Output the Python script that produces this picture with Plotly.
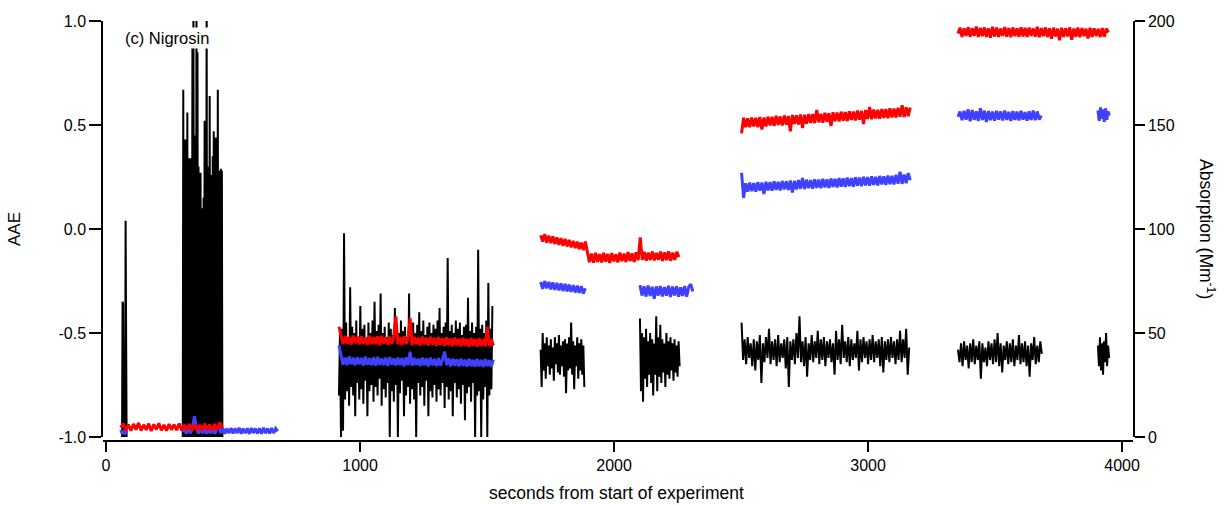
import plotly.graph_objects as go

# ---- AAE (left axis), one list per measurement block ----
aae_t0 = [63, 302, 917, 1711, 2102, 2502, 3354, 3905]
aae_dt = [2, 2, 4, 4, 4, 6, 6, 4]

aae_b1 = [-1.0, -0.35, -0.36, -1.0, -0.98, -1.0, -0.9, 0.04, -1.0, -1.0]
aae_b2 = [-1.0, 0.67, -1.0, 0.1, -1.0, 0.43, -1.0, 0.3, -1.0, 0.56,
          -1.0, 0.34, -1.0, 0.2, -1.0, 0.34, -1.0, 0.3, -1.0, 0.9,
          -1.0, 1.2, -1.0, 0.45, -1.0, 0.3, -1.0, 1.2, -1.0, 0.85,
          -1.0, 0.3, -1.0, 0.27, -1.0, 0.27, -0.55, 0.1, -1.0, -0.06,
          -1.0, 0.15, -1.0, 0.52, -1.0, 0.3, -1.0, 1.2, -1.0, 0.25,
          -1.0, 0.3, -1.0, 0.64, -1.0, 0.2, -1.0, 0.26, -1.0, 0.35,
          -1.0, 0.47, -1.0, 0.2, -1.0, 0.44, -1.0, 0.3, -1.0, 0.67,
          -1.0, 0.2, -1.0, 0.28, -1.0, 0.29, -1.0, 0.28, -1.0]
aae_b3 = [-0.8, -0.5, -1.0, -0.48, -0.97, -0.02, -0.82, -0.45, -0.78, -0.52,
          -0.85, -0.28, -0.76, -0.47, -0.8, -0.5, -0.9, -0.44, -0.74, -0.52,
          -0.82, -0.37, -0.77, -0.48, -0.84, -0.46, -0.73, -0.53, -0.9, -0.45,
          -0.78, -0.5, -0.75, -0.44, -0.83, -0.35, -0.76, -0.49, -0.8, -0.46,
          -0.72, -0.31, -0.85, -0.5, -0.77, -0.47, -0.81, -0.52, -0.74, -0.45,
          -1.0, -0.48, -0.78, -0.51, -0.83, -0.38, -0.75, -0.46, -1.0, -0.5,
          -0.79, -0.44, -0.73, -0.49, -0.9, -0.47, -0.8, -0.52, -0.76, -0.31,
          -0.84, -0.48, -0.77, -0.45, -0.82, -0.5, -1.0, -0.46, -0.74, -0.4,
          -0.8, -0.49, -0.76, -0.44, -0.85, -0.51, -0.73, -0.47, -0.9, -0.45,
          -0.78, -0.5, -0.81, -0.46, -0.75, -0.48, -0.83, -0.44, -0.77, -0.38,
          -0.8, -0.5, -0.74, -0.47, -0.86, -0.45, -0.76, -0.14, -0.82, -0.49,
          -0.78, -0.46, -0.9, -0.5, -0.74, -0.44, -0.81, -0.48, -0.77, -0.45,
          -0.84, -0.51, -0.75, -0.47, -0.92, -0.46, -0.79, -0.33, -0.76, -0.49,
          -0.83, -0.45, -0.74, -0.5, -1.0, -0.47, -0.8, -0.1, -0.78, -0.48,
          -1.0, -0.46, -0.82, -0.5, -0.76, -0.44, -1.0, -0.26, -0.8, -0.48,
          -0.77, -0.37]
aae_b4 = [-0.58, -0.76, -0.5, -0.68, -0.55, -0.72, -0.52, -0.66, -0.56, -0.7,
          -0.53, -0.67, -0.57, -0.73, -0.52, -0.65, -0.55, -0.69, -0.51, -0.7,
          -0.56, -0.66, -0.54, -0.71, -0.53, -0.79, -0.55, -0.68, -0.52, -0.67,
          -0.45, -0.7, -0.54, -0.77, -0.56, -0.66, -0.52, -0.72, -0.55, -0.68,
          -0.53, -0.7, -0.56, -0.76]
aae_b5 = [-0.43, -0.78, -0.5, -0.83, -0.52, -0.72, -0.48, -0.76, -0.54, -0.7,
          -0.5, -0.74, -0.53, -0.8, -0.55, -0.7, -0.42, -0.78, -0.52, -0.71,
          -0.46, -0.74, -0.53, -0.69, -0.55, -0.76, -0.5, -0.7, -0.54, -0.72,
          -0.52, -0.68, -0.55, -0.73, -0.53, -0.69, -0.56, -0.71, -0.54, -0.66]
aae_b6 = [-0.45, -0.63, -0.53, -0.65, -0.52, -0.62, -0.55, -0.66, -0.53, -0.68,
          -0.54, -0.63, -0.51, -0.74, -0.55, -0.64, -0.52, -0.62, -0.48, -0.65,
          -0.54, -0.63, -0.53, -0.66, -0.51, -0.64, -0.55, -0.62, -0.53, -0.67,
          -0.52, -0.76, -0.54, -0.63, -0.53, -0.65, -0.5, -0.62, -0.42, -0.64,
          -0.54, -0.66, -0.52, -0.71, -0.55, -0.63, -0.51, -0.64, -0.54, -0.62,
          -0.49, -0.65, -0.53, -0.63, -0.52, -0.66, -0.54, -0.62, -0.53, -0.64,
          -0.55, -0.7, -0.49, -0.63, -0.53, -0.65, -0.46, -0.62, -0.54, -0.64,
          -0.52, -0.66, -0.53, -0.63, -0.55, -0.62, -0.49, -0.68, -0.53, -0.64,
          -0.52, -0.62, -0.54, -0.65, -0.53, -0.63, -0.51, -0.64, -0.54, -0.62,
          -0.53, -0.66, -0.52, -0.69, -0.54, -0.63, -0.53, -0.64, -0.52, -0.62,
          -0.54, -0.65, -0.53, -0.63, -0.49, -0.64, -0.53, -0.62, -0.48, -0.7,
          -0.57]
aae_b7 = [-0.58, -0.64, -0.55, -0.66, -0.54, -0.63, -0.56, -0.67, -0.55, -0.64,
          -0.53, -0.65, -0.56, -0.63, -0.54, -0.72, -0.55, -0.64, -0.57, -0.66,
          -0.54, -0.63, -0.55, -0.65, -0.53, -0.64, -0.5, -0.66, -0.55, -0.69,
          -0.56, -0.63, -0.54, -0.65, -0.55, -0.64, -0.53, -0.66, -0.56, -0.63,
          -0.51, -0.65, -0.55, -0.64, -0.54, -0.66, -0.56, -0.71, -0.55, -0.63,
          -0.52, -0.65, -0.56, -0.64, -0.54, -0.6]
aae_b8 = [-0.56, -0.66, -0.52, -0.68, -0.55, -0.7, -0.54, -0.64, -0.5, -0.66,
          -0.56, -0.62]

# ---- absorption at the longer wavelength (red, right axis, Mm^-1) ----
red_t0 = [58, 917, 1711, 2502, 3354]
red_dt = [10, 8, 8, 8, 8]

red_b1 = [4.5, 6.5, 3.2, 6.0, 3.0, 6.3, 3.5, 6.8, 3.1, 5.9, 3.4, 6.4, 2.9, 6.1,
          3.6, 6.6, 3.2, 5.8, 3.0, 6.2, 3.5, 6.0, 3.3, 6.5, 3.1, 5.9, 3.6, 6.3,
          3.0, 6.1, 3.4, 5.8, 3.2, 6.4, 3.5, 6.0, 3.1, 6.2, 3.4, 7.0, 4.5]
red_b2 = [53, 48.3, 44.6, 48.6, 44.9, 48.1, 44.4, 48.8, 45.0, 48.2, 44.5, 48.5,
          44.8, 47.9, 44.3, 48.6, 44.7, 48.0, 44.6, 48.4, 44.2, 48.7, 44.9, 47.8,
          44.4, 48.3, 44.8, 48.9, 58, 44.5, 48.0, 44.3, 48.4, 44.7, 47.9, 57,
          44.2, 48.1, 44.6, 47.8, 44.1, 48.3, 44.5, 47.7, 44.0, 48.2, 44.4, 47.6,
          43.9, 48.0, 44.3, 47.5, 43.8, 47.9, 44.2, 47.4, 43.7, 47.8, 44.1, 47.3,
          43.6, 47.7, 44.0, 47.2, 43.5, 47.6, 43.9, 47.1, 43.4, 47.5, 43.8, 47.0,
          43.6, 53, 43.7, 47.2, 43.9]
red_b3 = [97, 94, 97.5, 93.5, 96.8, 93.2, 96.5, 92.8, 96, 92.4, 95.6, 91.9, 95.2,
          91.6, 94.8, 91.2, 94.3, 90.8, 93.9, 90.3, 93.5, 89.8, 94, 88.8, 84, 88.2,
          83.8, 88.5, 84.2, 87.9, 83.9, 88.6, 84.3, 88.1, 83.7, 88.4, 84.4, 87.8,
          84.0, 88.7, 84.5, 88.2, 84.1, 88.9, 84.6, 88.3, 84.2, 88.8, 85.0, 96,
          85.2, 89.0, 84.8, 88.6, 85.1, 89.2, 84.9, 88.5, 85.3, 89.1, 84.7, 88.8,
          85.0, 89.3, 84.8, 88.6, 85.2, 89.0, 86.5]
red_b4 = [146, 153.5, 149.0, 153.2, 148.9, 153.6, 149.3, 153.4, 149.0, 153.8, 147.8,
          153.6, 149.3, 154.0, 149.8, 153.9, 149.5, 154.4, 150.0, 154.1, 149.8, 154.6,
          150.2, 154.3, 147.0, 154.8, 150.5, 154.6, 150.3, 155.0, 148.6, 154.9, 150.6,
          155.3, 151.0, 155.2, 150.9, 157.2, 151.3, 155.4, 151.1, 155.9, 151.6, 155.7,
          149.5, 156.1, 151.8, 156.0, 151.7, 156.4, 152.1, 156.2, 151.9, 156.6, 152.4,
          156.5, 152.2, 156.9, 152.6, 156.8, 150.5, 157.2, 152.9, 158.6, 152.8, 157.4,
          153.2, 157.3, 153.0, 157.7, 153.4, 157.6, 153.3, 158.0, 153.7, 157.9, 153.6,
          158.3, 154.0, 159.5, 153.9, 158.5, 154.2, 158.4]
red_b5 = [194, 196.8, 192.4, 196.5, 192.8, 197.0, 192.5, 196.6, 192.9, 197.3, 192.3,
          196.7, 192.7, 196.9, 192.4, 196.5, 192.0, 197.2, 192.6, 196.8, 192.3, 196.4,
          192.8, 197.1, 192.5, 196.6, 192.2, 196.9, 192.7, 196.5, 192.4, 197.0, 192.6,
          196.7, 192.3, 196.8, 192.8, 196.4, 192.5, 197.2, 192.2, 196.6, 192.7, 196.9,
          192.4, 196.5, 191.5, 196.8, 192.6, 196.3, 190.8, 196.7, 192.3, 196.5, 192.6,
          196.9, 191.0, 196.4, 192.5, 196.8, 192.2, 196.6, 192.7, 196.3, 191.6, 196.7,
          192.4, 196.5, 192.8, 196.2, 192.3, 196.6, 192.5, 196.4, 194.5]

# ---- absorption at the shorter wavelength (blue, right axis, Mm^-1) ----
blue_t0 = [58, 300, 917, 1711, 2102, 2502, 3354, 3905]
blue_dt = [6, 8, 8, 8, 8, 8, 8, 5]

blue_b1 = [3.5, 1.5, 2.5, 1.8, 3.0]
blue_b2 = [2.5, 4.2, 1.6, 4.0, 1.8, 4.4, 10.0, 4.1, 1.7, 4.3, 1.9, 4.0, 1.6, 4.2,
           1.8, 4.4, 1.5, 4.1, 5.0, 1.9, 4.2, 1.6, 4.0, 1.8, 4.3, 1.7, 4.1, 1.9,
           4.4, 1.6, 4.0, 1.8, 4.2, 1.5, 4.3, 1.9, 4.1, 1.7, 4.2, 1.6, 4.4, 1.8,
           4.0, 1.7, 4.3, 1.9, 4.1, 2.8]
blue_b3 = [44, 38.5, 34.8, 38.2, 34.6, 38.7, 35.0, 38.1, 34.5, 38.4, 34.9, 38.0,
           34.4, 38.6, 34.8, 37.9, 34.6, 38.3, 34.3, 38.5, 34.7, 37.8, 34.5, 38.2,
           34.2, 38.4, 34.8, 37.7, 34.4, 38.1, 34.6, 37.9, 34.1, 38.3, 34.5, 41,
           34.3, 38.0, 34.7, 37.6, 34.2, 38.2, 34.4, 37.8, 34.0, 38.1, 34.5, 37.5,
           34.1, 37.9, 34.3, 37.4, 41, 34.6, 37.8, 34.0, 37.6, 34.4, 37.3, 33.9,
           37.7, 34.2, 37.2, 33.8, 37.6, 34.1, 37.1, 33.9, 37.5, 34.0, 37.0, 33.7,
           37.4, 34.1, 36.9, 33.8, 37.2]
blue_b4 = [74.5, 71.2, 75, 71.5, 74.6, 71.0, 74.3, 70.7, 74.1, 70.5, 73.8, 70.2,
           73.6, 70.0, 73.3, 69.8, 73.0, 69.5, 72.7, 69.3, 72.5, 69.0, 71.5]
blue_b5 = [73, 68, 72.5, 67.5, 72.8, 67.8, 72.2, 66.5, 72.4, 68.0, 72.6, 67.6, 72.1,
           67.9, 72.7, 67.3, 72.3, 68.1, 72.5, 67.4, 72.0, 67.8, 72.6, 67.5, 72.2,
           73.5, 70]
blue_b6 = [127, 115, 122.0, 118.0, 122.3, 118.2, 122.1, 117.9, 122.5, 118.4, 122.3,
           116.8, 122.7, 118.6, 122.5, 118.4, 122.9, 118.8, 122.7, 118.6, 123.1, 119.0,
           122.9, 118.8, 123.3, 117.6, 123.1, 119.0, 123.5, 119.4, 124.5, 119.2, 123.7,
           119.6, 123.5, 119.4, 123.9, 119.8, 123.7, 119.6, 124.1, 120.0, 123.9, 119.8,
           124.3, 120.2, 124.1, 120.0, 124.5, 120.4, 124.3, 120.2, 124.7, 120.6, 124.5,
           120.4, 124.9, 120.8, 124.7, 120.6, 125.1, 121.0, 124.9, 120.8, 125.3, 121.2,
           125.1, 121.0, 125.5, 121.4, 125.3, 121.2, 125.7, 121.6, 125.5, 121.4, 126.0,
           121.8, 127.5, 121.7, 126.2, 122.0, 126.8, 123.5]
blue_b7 = [154, 156.5, 152.3, 156.8, 152.6, 157.5, 151.8, 157.2, 152.5, 156.6, 152.0,
           158.0, 152.4, 156.9, 151.5, 156.7, 152.3, 156.4, 152.1, 156.8, 152.6, 156.5,
           152.2, 156.9, 152.4, 156.3, 152.0, 156.7, 152.5, 156.4, 152.2, 156.8, 152.6,
           156.2, 152.1, 156.6, 152.4, 156.9, 152.3, 156.5, 152.6, 154.5]
blue_b8 = [157, 152, 158.5, 153, 157.5, 151.5, 158, 152.5, 156.5, 154.5]

# ---- axis ticks ----
x_ticks = [0, 1000, 2000, 3000, 4000]
x_ticklabels = ["0", "1000", "2000", "3000", "4000"]
aae_ticks = [-1.0, -0.5, 0.0, 0.5, 1.0]
aae_ticklabels = ["-1.0", "-0.5", "0.0", "0.5", "1.0"]
abs_ticks = [0, 50, 100, 150, 200]
abs_ticklabels = ["0", "50", "100", "150", "200"]


def stitch(t0s, dts, blocks):
    """Join the measurement blocks into one trace, with gaps between them."""
    xs, ys = [], []
    for t0, dt, blk in zip(t0s, dts, blocks):
        xs += [t0 + dt * i for i in range(len(blk))] + [None]
        ys += list(blk) + [None]
    return xs, ys


aae_x, aae_y = stitch(aae_t0, aae_dt,
                      [aae_b1, aae_b2, aae_b3, aae_b4, aae_b5, aae_b6, aae_b7, aae_b8])
red_x, red_y = stitch(red_t0, red_dt, [red_b1, red_b2, red_b3, red_b4, red_b5])
blue_x, blue_y = stitch(blue_t0, blue_dt,
                        [blue_b1, blue_b2, blue_b3, blue_b4, blue_b5, blue_b6, blue_b7, blue_b8])

FONT = "Liberation Sans, Arial, sans-serif"

fig = go.Figure()
fig.add_trace(go.Scatter(x=aae_x, y=aae_y, mode="lines", yaxis="y",
                         line=dict(color="#000000", width=2), connectgaps=False))
fig.add_trace(go.Scatter(x=blue_x, y=blue_y, mode="lines", yaxis="y2",
                         line=dict(color="#4040ff", width=3), connectgaps=False))
fig.add_trace(go.Scatter(x=red_x, y=red_y, mode="lines", yaxis="y2",
                         line=dict(color="#ff0000", width=3), connectgaps=False))

axis_common = dict(showgrid=False, zeroline=False, showline=True, linecolor="black",
                   linewidth=1.5, ticks="outside", tickwidth=1.5, tickcolor="black",
                   tickfont=dict(family=FONT, size=16, color="black"))

fig.update_layout(
    width=1227, height=505,
    margin=dict(l=103, r=94, t=21, b=64),
    paper_bgcolor="white", plot_bgcolor="white",
    showlegend=False,
    hovermode=False,
    font=dict(family=FONT, color="black"),
    xaxis=dict(range=[-12, 4043], tickvals=x_ticks, ticktext=x_ticklabels,
               ticklen=10, anchor="free", position=0, **axis_common),
    yaxis=dict(range=[-1.0, 1.0], domain=[4 / 420, 1], tickvals=aae_ticks,
               ticktext=aae_ticklabels, ticklen=12, **axis_common),
    yaxis2=dict(range=[0, 200], domain=[4 / 420, 1], overlaying="y", side="right",
                anchor="x", tickvals=abs_ticks, ticktext=abs_ticklabels, ticklen=10,
                **axis_common),
    annotations=[
        dict(text="(c) Nigrosin", xref="paper", yref="paper", x=0.0194, y=0.9595,
             xanchor="left", yanchor="middle", showarrow=False, bgcolor="white",
             borderpad=1, font=dict(family=FONT, size=16.5, color="black")),
        dict(text="seconds from start of experiment", xref="paper", yref="paper",
             x=0.499, y=-0.1238, xanchor="center", yanchor="middle", showarrow=False,
             font=dict(family=FONT, size=17.5, color="black")),
        dict(text="AAE", xref="paper", yref="paper", x=-0.0854, y=0.5048,
             xanchor="center", yanchor="middle", textangle=-90, showarrow=False,
             font=dict(family=FONT, size=17, color="black")),
        dict(text="Absorption (Mm<sup>-1</sup>)", xref="paper", yref="paper",
             x=1.0718, y=0.5048, xanchor="center", yanchor="middle", textangle=90,
             showarrow=False, font=dict(family=FONT, size=17.5, color="black")),
    ],
)

fig.write_html("out.html", config={"displayModeBar": False})
